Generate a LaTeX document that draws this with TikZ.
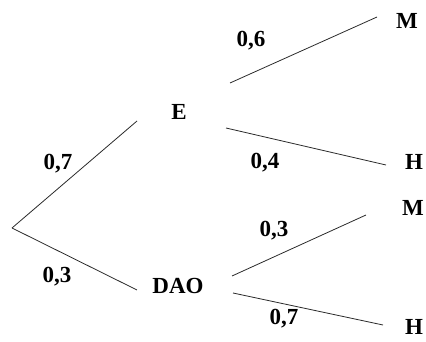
\documentclass[tikz,border=0pt]{standalone}
\usepackage{fontspec}
\setmainfont{Liberation Serif}
\definecolor{branchGray}{HTML}{2A2A2A}

\begin{document}
\begin{tikzpicture}[x=1pt, y=1pt, color=black,
    event/.style={inner sep=0pt, font=\fontsize{23}{27}\selectfont\bfseries},
    prob/.style={inner sep=0pt, font=\fontsize{23}{27}\selectfont\bfseries},
    branch/.style={draw=branchGray, line width=0.8pt}]

    \useasboundingbox (0,0) rectangle (426,342);

    % events
    \coordinate (root) at (12,114);
    \node[event] (E) at (179,230) {E};
    \node[event] (DAO) at (178,56) {DAO};
    \node[event] (M1) at (407,321) {M};
    \node[event] (H1) at (414,180) {H};
    \node[event] (M2) at (413,134) {M};
    \node[event] (H2) at (414,15) {H};

    % first level
    \draw[branch] (root) -- ([shift={(-42,-9)}]E.center);
    \draw[branch] (root) -- ([shift={(-41,-4)}]DAO.center);

    % second level
    \draw[branch] ([shift={(51,29)}]E.center) -- ([shift={(-30,4)}]M1.center);
    \draw[branch] ([shift={(47,-16)}]E.center) -- ([shift={(-28,-3)}]H1.center);
    \draw[branch] ([shift={(54,10)}]DAO.center) -- ([shift={(-47,-7)}]M2.center);
    \draw[branch] ([shift={(55,-7)}]DAO.center) -- ([shift={(-31,2)}]H2.center);

    % probabilities
    \node[prob] (pE) at (58,178) {0,7};
    \node[prob] (pDAO) at (57,65) {0,3};
    \node[prob] (pEM) at (251,301) {0,6};
    \node[prob] (pEH) at (265,179) {0,4};
    \node[prob] (pDM) at (274,111) {0,3};
    \node[prob] (pDH) at (284,23) {0,7};

\end{tikzpicture}
\end{document}
